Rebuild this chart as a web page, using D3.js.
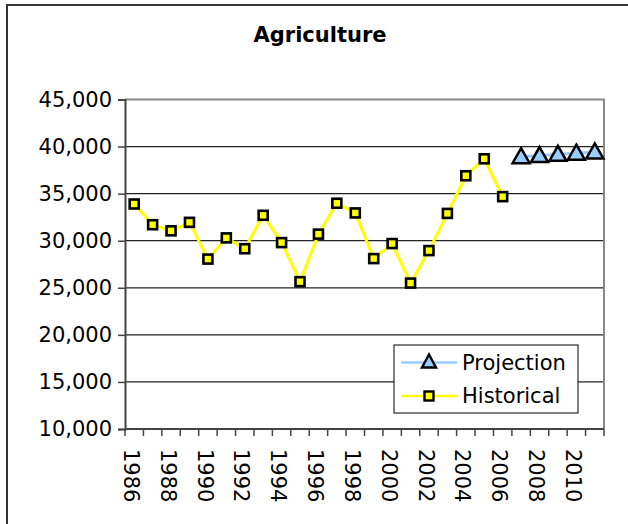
<!DOCTYPE html>
<html>
<head>
<meta charset="utf-8">
<script src="https://cdn.jsdelivr.net/npm/d3@7"></script>
<style>
  html, body { margin: 0; padding: 0; background: #fff; }
  svg { display: block; }
  text { font-family: "DejaVu Sans", Verdana, sans-serif; fill: #000; }
</style>
</head>
<body>
<svg id="chart" width="628" height="524"></svg>
<script>
const title = "Agriculture";
const years = d3.range(1986, 2012);
const histYears = d3.range(1986, 2007);
const histValues = [33900, 31700, 31050, 31950, 28050, 30300, 29150, 32700, 29800, 25650,
                    30700, 33980, 32950, 28100, 29700, 25500, 28950, 32900, 36900, 38700, 34680];
const projYears = [2007, 2008, 2009, 2010, 2011];
const projValues = [38920, 39050, 39180, 39300, 39430];
const yTicks = [10000, 15000, 20000, 25000, 30000, 35000, 40000, 45000];
const xLabelYears = [1986, 1988, 1990, 1992, 1994, 1996, 1998, 2000, 2002, 2004, 2006, 2008, 2010];
const seriesNames = ["Projection", "Historical"];

const svg = d3.select("#chart");
const L = 125, R = 604, T = 99.5, B = 429;

const x = d3.scaleBand().domain(years).range([L, R]).paddingInner(0).paddingOuter(0);
const y = d3.scaleLinear().domain([10000, 45000]).range([B, T]);
const cx = d => x(d) + x.bandwidth() / 2;

// outer chart border (only top/left visible)
svg.append("rect").attr("x", 7).attr("y", 5).attr("width", 700).attr("height", 600)
  .attr("fill", "none").attr("stroke", "#333").attr("stroke-width", 2);

// title
svg.append("text").attr("x", 320).attr("y", 42).attr("text-anchor", "middle")
  .attr("font-size", 21).attr("font-weight", "bold").text(title);

// gridlines
svg.append("g").selectAll("line").data(yTicks.filter(v => v > 10000 && v < 45000)).join("line")
  .attr("x1", L).attr("x2", R).attr("y1", d => y(d)).attr("y2", d => y(d))
  .attr("stroke", "#222").attr("stroke-width", 1.2);

// plot area border top/right (gray)
svg.append("path").attr("d", `M${L},${T}H${R}V${B}`).attr("fill", "none")
  .attr("stroke", "#888").attr("stroke-width", 2);

// y axis
const yAxis = d3.axisLeft(y).tickValues(yTicks).tickSize(7).tickPadding(6)
  .tickFormat(d3.format(","));
const gy = svg.append("g").attr("transform", `translate(${L},0)`).call(yAxis);
gy.select(".domain").attr("stroke", "#444").attr("stroke-width", 2);
gy.selectAll(".tick line").attr("stroke", "#444").attr("stroke-width", 1.5);
gy.selectAll(".tick text").attr("font-size", 21).attr("font-family", "DejaVu Sans, Verdana, sans-serif").attr("fill", "#000");

// x axis baseline and ticks at category boundaries
const bounds = years.map(d => x(d)).concat([x(years[years.length - 1]) + x.bandwidth()]);
svg.append("line").attr("x1", L).attr("x2", R).attr("y1", B).attr("y2", B)
  .attr("stroke", "#444").attr("stroke-width", 2);
svg.append("g").selectAll("line").data(bounds).join("line")
  .attr("x1", d => d).attr("x2", d => d).attr("y1", B).attr("y2", B + 7)
  .attr("stroke", "#444").attr("stroke-width", 1.5);

// x labels rotated
svg.append("g").selectAll("text").data(xLabelYears).join("text")
  .attr("transform", d => `translate(${cx(d) - 3},${B + 20}) rotate(90)`)
  .attr("dy", "0.35em").attr("font-size", 21).attr("text-anchor", "start")
  .text(d => d);

// lines
const line = d3.line().x(d => cx(d[0])).y(d => y(d[1]));
const hist = histYears.map((d, i) => [d, histValues[i]]);
const proj = projYears.map((d, i) => [d, projValues[i]]);

svg.append("path").datum(proj).attr("d", line).attr("fill", "none")
  .attr("stroke", "#99CCFF").attr("stroke-width", 3);
svg.append("path").datum(hist).attr("d", line).attr("fill", "none")
  .attr("stroke", "#FFFF00").attr("stroke-width", 3);

// markers
const sq = 9;
svg.append("g").selectAll("rect").data(hist).join("rect")
  .attr("x", d => cx(d[0]) - sq / 2).attr("y", d => y(d[1]) - sq / 2)
  .attr("width", sq).attr("height", sq)
  .attr("fill", "#FFFF00").attr("stroke", "#000").attr("stroke-width", 2.6);

const tri = (px, py) => `M${px},${py - 8.5}L${px + 8.5},${py + 6.5}L${px - 8.5},${py + 6.5}Z`;
svg.append("g").selectAll("path").data(proj).join("path")
  .attr("d", d => tri(cx(d[0]), y(d[1])))
  .attr("fill", "#99CCFF").attr("stroke", "#000").attr("stroke-width", 2.5).attr("stroke-linejoin", "miter");

// legend
const lg = svg.append("g");
lg.append("rect").attr("x", 394).attr("y", 345).attr("width", 184).attr("height", 68)
  .attr("fill", "#fff").attr("stroke", "#000").attr("stroke-width", 1);
const legendRows = [
  { name: seriesNames[0], y: 362.5, color: "#99CCFF", shape: "tri" },
  { name: seriesNames[1], y: 396, color: "#FFFF00", shape: "sq" }
];
legendRows.forEach(r => {
  lg.append("line").attr("x1", 401).attr("x2", 457).attr("y1", r.y).attr("y2", r.y)
    .attr("stroke", r.color).attr("stroke-width", 2.5);
  if (r.shape === "tri") {
    lg.append("path").attr("d", `M429,${r.y - 8}L436,${r.y + 5}L422,${r.y + 5}Z`)
      .attr("fill", "#99CCFF").attr("stroke", "#000").attr("stroke-width", 2.4);
  } else {
    lg.append("rect").attr("x", 429 - sq / 2).attr("y", r.y - sq / 2).attr("width", sq).attr("height", sq)
      .attr("fill", "#FFFF00").attr("stroke", "#000").attr("stroke-width", 2.4);
  }
  lg.append("text").attr("x", 462).attr("y", r.y).attr("dy", "0.35em")
    .attr("font-size", 21).text(r.name);
});
</script>
</body>
</html>
